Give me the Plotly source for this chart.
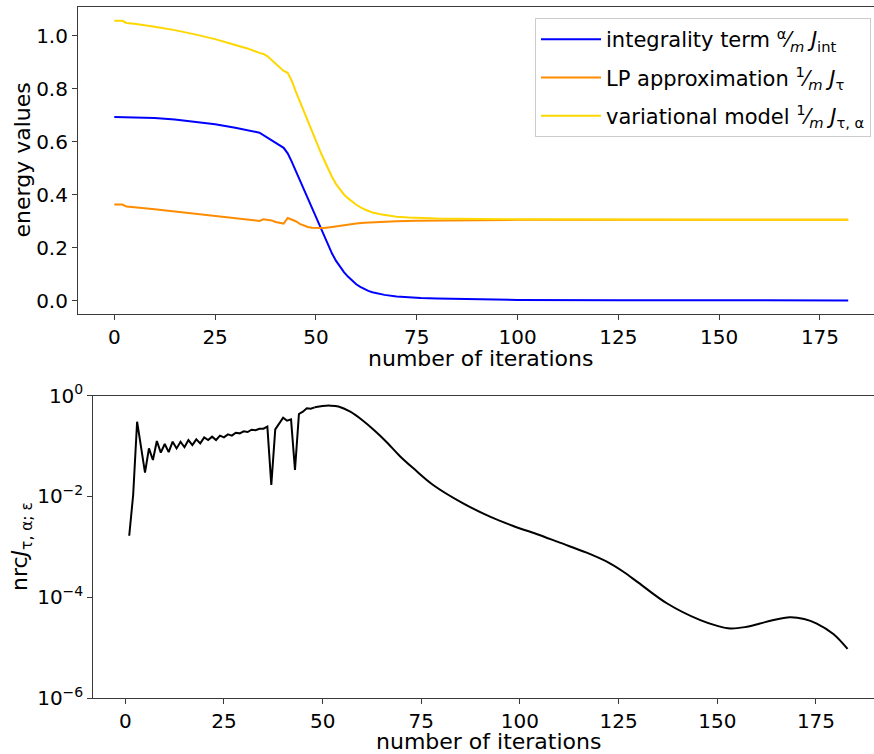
import plotly.graph_objects as go

# ---------------- data: top panel ----------------
it_int = [0, 5, 10, 15, 20, 25, 30, 33, 36, 42, 43, 44, 45, 46, 47, 48, 49, 50,
          51, 52, 53, 54, 55, 56, 57, 58, 59, 60, 61, 62, 63, 64, 65, 67, 70,
          73, 76, 80, 90, 100, 125, 150, 182]
integrality = [0.693, 0.692, 0.689, 0.684, 0.676, 0.666, 0.653, 0.644, 0.634,
               0.577, 0.556, 0.525, 0.490, 0.455, 0.420, 0.383, 0.347, 0.312,
               0.279, 0.245, 0.212, 0.178, 0.150, 0.127, 0.107, 0.090, 0.075,
               0.062, 0.052, 0.044, 0.037, 0.032, 0.028, 0.022, 0.016, 0.012,
               0.010, 0.008, 0.005, 0.003, 0.002, 0.0015, 0.001]

it_lp = [0, 2, 3, 5, 10, 15, 20, 25, 30, 36, 37, 38, 39, 40, 41, 42, 43, 44,
         45, 46, 47, 48, 49, 50, 52, 54, 56, 58, 60, 62, 65, 70, 75, 80, 90,
         100, 182]
lp_approx = [0.363, 0.363, 0.355, 0.353, 0.345, 0.337, 0.329, 0.321, 0.312,
             0.301, 0.307, 0.306, 0.303, 0.297, 0.294, 0.291, 0.312, 0.306,
             0.300, 0.290, 0.283, 0.278, 0.275, 0.274, 0.274, 0.278, 0.283,
             0.287, 0.291, 0.294, 0.297, 0.300, 0.302, 0.303, 0.304, 0.305,
             0.305]

it_var = [0, 2, 3, 5, 10, 15, 20, 25, 30, 33, 36, 37, 38, 39, 40, 41, 42, 43,
          44, 45, 46, 47, 48, 49, 50, 51, 52, 53, 54, 55, 56, 57, 58, 59, 60,
          62, 64, 66, 68, 70, 73, 76, 80, 90, 100, 125, 150, 182]
variational = [1.056, 1.056, 1.048, 1.045, 1.034, 1.021, 1.005, 0.987, 0.965,
               0.952, 0.935, 0.931, 0.922, 0.909, 0.895, 0.880, 0.867, 0.860,
               0.830, 0.790, 0.752, 0.716, 0.680, 0.640, 0.602, 0.566, 0.532,
               0.498, 0.467, 0.440, 0.418, 0.400, 0.386, 0.373, 0.362, 0.345,
               0.333, 0.326, 0.321, 0.317, 0.314, 0.312, 0.310, 0.308, 0.307,
               0.306, 0.305, 0.305]

# ---------------- data: bottom panel ----------------
it_nrc = [1, 2, 3, 5, 6, 7, 8, 9, 10, 11, 12, 13, 14, 15, 16, 17, 18, 19, 20,
          21, 22, 23, 24, 25, 26, 27, 28, 29, 30, 31, 32, 33, 34, 35, 36, 37,
          38, 39, 40, 41, 42, 43, 44, 45, 46, 47, 48, 50, 52, 54, 57, 60, 63,
          66, 69.6, 73, 78, 85.6, 92.4, 98.3, 104.2, 110.1, 116.9, 122, 126.2,
          130, 137.2, 145.7, 150, 153.3, 157, 160.8, 164, 168.4, 172, 175.2,
          179.4, 183]
nrc = [1.66e-3, 1.07e-2, 0.305, 0.0297, 0.090, 0.053, 0.126, 0.074, 0.110,
       0.076, 0.122, 0.090, 0.122, 0.095, 0.132, 0.105, 0.136, 0.113, 0.149,
       0.132, 0.154, 0.132, 0.161, 0.149, 0.171, 0.161, 0.184, 0.179, 0.196,
       0.190, 0.211, 0.207, 0.221, 0.221, 0.243, 0.0169, 0.215, 0.283, 0.366,
       0.319, 0.340, 0.0335, 0.433, 0.481, 0.561, 0.550, 0.588, 0.625, 0.635,
       0.610, 0.481, 0.330, 0.209, 0.125, 0.063, 0.0362, 0.0169, 7.3e-3,
       3.98e-3, 2.6e-3, 1.8e-3, 1.21e-3, 7.66e-4, 5.07e-4, 3.2e-4, 1.95e-4,
       7.6e-5, 3.5e-5, 2.7e-5, 2.4e-5, 2.55e-5, 3.0e-5, 3.5e-5, 4.0e-5,
       3.7e-5, 3.0e-5, 1.86e-5, 9.4e-6]

x_ticks = [0, 25, 50, 75, 100, 125, 150, 175]
top_y_ticks = [0.0, 0.2, 0.4, 0.6, 0.8, 1.0]
log_ticks = [1e-6, 1e-4, 1e-2, 1]
log_tick_text = ["10<sup>\u22126</sup>", "10<sup>\u22124</sup>",
                 "10<sup>\u22122</sup>", "10<sup>0</sup>"]

W, H = 874, 754
FONT = "DejaVu Sans"
AX = "#3a3a3a"

fig = go.Figure()
fig.add_trace(go.Scatter(
    x=it_int, y=integrality, mode="lines", line=dict(color="#0000ff", width=2),
    name="integrality term <sup>\u03b1</sup>\u2044<sub><i>m</i></sub> <i>J</i><sub>int</sub>",
    legendgroup="a", xaxis="x", yaxis="y"))
fig.add_trace(go.Scatter(
    x=it_lp, y=lp_approx, mode="lines", line=dict(color="#ff8c00", width=2),
    name="LP approximation <sup>1</sup>\u2044<sub><i>m</i></sub> <i>J</i><sub>\u03c4</sub>",
    legendgroup="b", xaxis="x", yaxis="y"))
fig.add_trace(go.Scatter(
    x=it_var, y=variational, mode="lines", line=dict(color="#ffd700", width=2),
    name="variational model <sup>1</sup>\u2044<sub><i>m</i></sub> <i>J</i><sub>\u03c4, \u03b1</sub>",
    legendgroup="c", xaxis="x", yaxis="y"))

# bottom series: oscillating start drawn straight, smooth decay drawn as spline
split = it_nrc.index(48)
fig.add_trace(go.Scatter(
    x=it_nrc[:split + 1], y=nrc[:split + 1], mode="lines",
    line=dict(color="black", width=2), showlegend=False,
    xaxis="x2", yaxis="y2"))
fig.add_trace(go.Scatter(
    x=it_nrc[split:], y=nrc[split:], mode="lines",
    line=dict(color="black", width=2, shape="spline", smoothing=1.0),
    showlegend=False, xaxis="x2", yaxis="y2"))

axis_common = dict(showline=True, linecolor=AX, linewidth=1.1, ticks="outside",
                   ticklen=5, tickwidth=1, tickcolor=AX, showgrid=False,
                   zeroline=False, automargin=False,
                   tickfont=dict(size=20, color="black", family=FONT))

fig.update_layout(
    width=W, height=H, margin=dict(l=0, r=0, t=0, b=0, autoexpand=False),
    paper_bgcolor="white", plot_bgcolor="white",
    font=dict(family=FONT, size=20, color="black"),
    xaxis=dict(domain=[78 / W, 1], anchor="y", range=[-9.0, 188.4],
               tickvals=x_ticks, mirror=True, **axis_common),
    yaxis=dict(domain=[1 - 314 / H, 1 - 7 / H], anchor="x",
               range=[-0.0502, 1.1083], tickvals=top_y_ticks,
               tickformat=".1f", mirror=False, **axis_common),
    xaxis2=dict(domain=[93.3 / W, 1], anchor="y2", range=[-8.1, 189.7],
                tickvals=x_ticks, mirror=True, **axis_common),
    yaxis2=dict(domain=[1 - 698 / H, 1 - 395.7 / H], anchor="x2", type="log",
                range=[-6, 0], tickvals=log_ticks, ticktext=log_tick_text,
                mirror=False, **axis_common),
    legend=dict(x=871 / W, xanchor="right", y=1 - 18 / H, yanchor="top",
                bgcolor="rgba(255,255,255,0.85)", bordercolor="#cccccc",
                borderwidth=1, font=dict(size=21, family=FONT, color="black"),
                tracegroupgap=8, traceorder="grouped", itemwidth=60),
    showlegend=True,
)

annotations = [
    dict(text="energy values", x=22 / W, y=1 - 160.5 / H, textangle=-90),
    dict(text="number of iterations", x=481 / W, y=1 - 358 / H),
    dict(text="nrc<i>J</i><sub>\u03c4, \u03b1; \u03b5</sub>", x=21 / W,
         y=1 - 547 / H, textangle=-90),
    dict(text="number of iterations", x=488 / W, y=1 - 741 / H),
]
for a in annotations:
    fig.add_annotation(xref="paper", yref="paper", showarrow=False,
                       xanchor="center", yanchor="middle",
                       font=dict(size=22, family=FONT, color="black"), **a)

fig.write_html("out.html")
